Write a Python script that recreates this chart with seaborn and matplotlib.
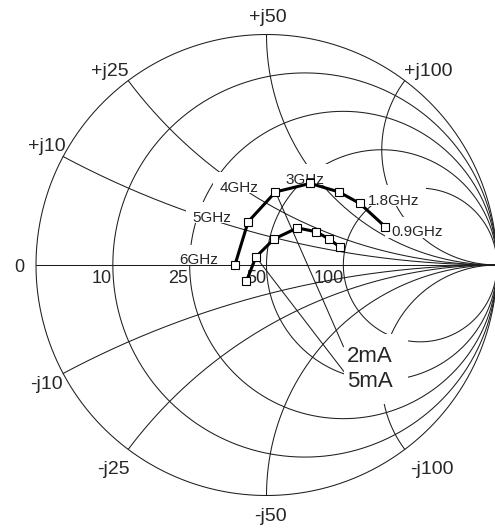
import numpy as np
import matplotlib
matplotlib.use("Agg")
import matplotlib.pyplot as plt
import seaborn as sns
import pandas as pd
from matplotlib.patches import Rectangle

# ---------------- data (reflection coefficient) ----------------
freq_labels = ["0.9GHz", "1.8GHz", "", "3GHz", "4GHz", "5GHz", "6GHz"]
g2mA_re = [0.516, 0.405, 0.314, 0.190, 0.039, -0.080, -0.137]
g2mA_im = [0.165, 0.267, 0.317, 0.354, 0.317, 0.187, 0.000]
g5mA_re = [0.317, 0.271, 0.216, 0.134, 0.033, -0.046, -0.087]
g5mA_im = [0.079, 0.113, 0.144, 0.161, 0.113, 0.035, -0.070]

# grid
r_values = [0.2, 0.5, 1.0, 2.0]
r_labels = ["10", "25", "50", "100"]
x_values = [0.25, 0.5, 1.0, 2.0]
x_labels = ["j10", "j25", "j50", "j100"]

sns.set_style("white")
plt.rcParams["font.family"] = ["Liberation Sans", "DejaVu Sans"]

W, H, DPI = 495, 529, 100
CX, CY, R = 266.5, 265.0, 230.5          # pixel centre / radius of the chart


def g(px, py):
    """pixel position -> reflection-coefficient plane"""
    return ((px - CX) / R, (CY - py) / R)


fig = plt.figure(figsize=(W / DPI, H / DPI), dpi=DPI)
ax = fig.add_axes([0, 0, 1, 1])
ax.set_xlim(-CX / R, (W - CX) / R)
ax.set_ylim((CY - H) / R, CY / R)
ax.axis("off")

GC = "#1e1e1e"
GLW = 0.75
th = np.linspace(0, 2 * np.pi, 1441)

# outer circle
ax.plot(np.cos(th), np.sin(th), color=GC, lw=GLW, zorder=1)
# real axis (kept on top of label boxes)
ax.plot([-1, 1], [0, 0], color=GC, lw=GLW, zorder=3.5)
# constant resistance circles
for r in r_values:
    c, rad = r / (1 + r), 1 / (1 + r)
    ax.plot(c + rad * np.cos(th), rad * np.sin(th), color=GC, lw=GLW, zorder=1)
# constant reactance arcs
for x in x_values:
    g0 = (1j * x - 1) / (1j * x + 1)
    phi0 = np.arctan2(g0.imag - 1 / x, g0.real - 1) % (2 * np.pi)
    ph = np.linspace(phi0, 1.5 * np.pi, 800)
    ux = 1 + np.cos(ph) / x
    uy = 1 / x + np.sin(ph) / x
    ax.plot(ux, uy, color=GC, lw=GLW, zorder=1)
    ax.plot(ux, -uy, color=GC, lw=GLW, zorder=1)

# ---------------- outer labels ----------------
FS_X, FS_R = 14, 13
ax.text(*g(268, 21.5), "+" + x_labels[2], fontsize=FS_X, ha="center", va="baseline")
ax.text(*g(128.5, 76.5), "+" + x_labels[1], fontsize=FS_X, ha="right", va="baseline")
ax.text(*g(404, 76), "+" + x_labels[3], fontsize=FS_X, ha="left", va="baseline")
ax.text(*g(65.5, 151), "+" + x_labels[0], fontsize=FS_X, ha="right", va="baseline")
ax.text(*g(62.5, 389), "-" + x_labels[0], fontsize=FS_X, ha="right", va="baseline")
ax.text(*g(130, 474), "-" + x_labels[1], fontsize=FS_X, ha="right", va="baseline")
ax.text(*g(410, 474), "-" + x_labels[3], fontsize=FS_X, ha="left", va="baseline")
ax.text(*g(270, 521), "-" + x_labels[2], fontsize=FS_X, ha="center", va="baseline")
ax.text(*g(24, 272), "0", fontsize=FS_R, ha="right", va="baseline")

r_label_px = [112, 188.5, 266.5, 343.5]
for lab, px in zip(r_labels, r_label_px):
    ax.text(*g(px, 283), lab, fontsize=FS_R, ha="right", va="baseline", zorder=4)

# ---------------- frequency labels with white boxes ----------------
FS_F = 11
freq_pos = {"0.9GHz": (391, 236.5), "1.8GHz": (368, 205), "3GHz": (285.5, 183.5),
            "4GHz": (219.5, 191.7), "5GHz": (192.5, 221.5), "6GHz": (179.5, 264.5)}
ftexts = []
for lab, (px, py) in freq_pos.items():
    t = ax.text(*g(px, py), lab, fontsize=FS_F, ha="left", va="baseline", zorder=4)
    ftexts.append((t, py))

FS_M = 16
t2 = ax.text(*g(347, 362), "2mA", fontsize=FS_M, ha="left", va="baseline", zorder=4)
t5 = ax.text(*g(347, 387), "5mA", fontsize=FS_M, ha="left", va="baseline", zorder=4)

fig.canvas.draw()
rend = fig.canvas.get_renderer()
inv = ax.transData.inverted()


def add_box(x0, y0, x1, y1):
    (a, b) = inv.transform((x0, y0))
    (c, d) = inv.transform((x1, y1))
    ax.add_patch(Rectangle((a, b), c - a, d - b, facecolor="white",
                           edgecolor="none", zorder=3))


cap_f = 0.716 * FS_F * DPI / 72
for t, py in ftexts:
    bb = t.get_window_extent(rend)
    base = H - py
    add_box(bb.x0 - 6, base - 1, bb.x1 + 7, base + cap_f + 9)

bb2 = t2.get_window_extent(rend)
bb5 = t5.get_window_extent(rend)
cap_m = 0.716 * FS_M * DPI / 72
add_box(bb2.x0 - 3, (H - 387) - 17, bb2.x1 + 15, (H - 362) + cap_m + 12)

# ---------------- leader lines ----------------
lx2, ly2 = g(343.5, 346.7)
lx5, ly5 = g(345, 373)
ax.plot([g2mA_re[4], lx2], [g2mA_im[4], ly2], color=GC, lw=GLW, zorder=2)
ax.plot([g5mA_re[5], lx5], [g5mA_im[5], ly5], color=GC, lw=GLW, zorder=2)

# ---------------- measured curves ----------------
df = pd.concat([
    pd.DataFrame({"re": g2mA_re, "im": g2mA_im, "bias": "2mA", "f": freq_labels}),
    pd.DataFrame({"re": g5mA_re, "im": g5mA_im, "bias": "5mA", "f": freq_labels}),
], ignore_index=True)
for bias, sub in df.groupby("bias"):
    sns.lineplot(data=sub, x="re", y="im", sort=False, estimator=None, ax=ax,
                 color="black", lw=2.2, marker="s", markersize=5.6,
                 markerfacecolor="white", markeredgecolor="black",
                 markeredgewidth=0.8, legend=False, zorder=5)

ax.set_xlim(-CX / R, (W - CX) / R)
ax.set_ylim((CY - H) / R, CY / R)
ax.axis("off")
fig.savefig("out.png", dpi=DPI, facecolor="white")
